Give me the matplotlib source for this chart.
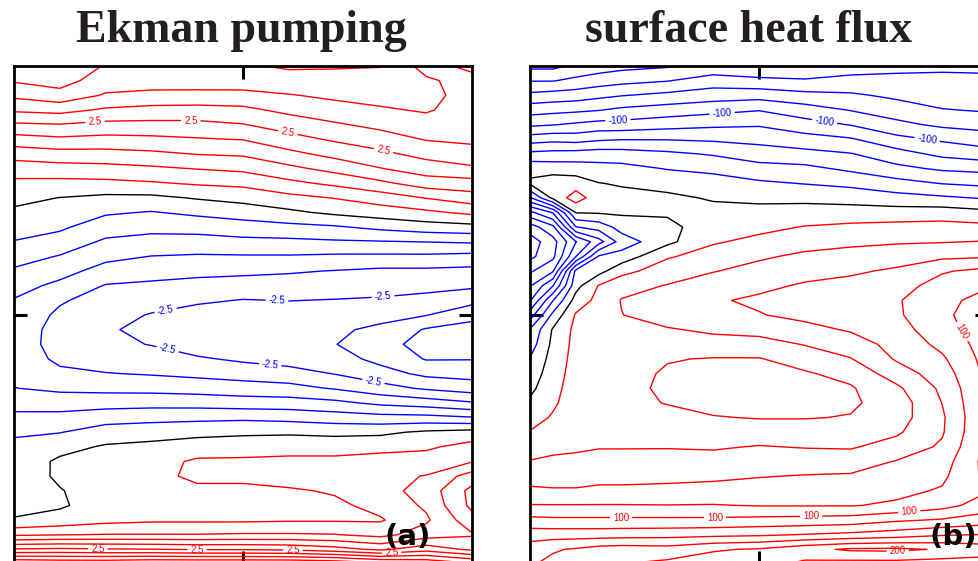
import numpy as np
import matplotlib
matplotlib.use("Agg")
import matplotlib.pyplot as plt

plt.rcParams['font.family'] = ['Liberation Sans', 'DejaVu Sans']

# --- grid: rows run from the top edge (y=1) to the bottom edge (y=0) ---
ys = np.linspace(1.0, 0.0, 35)

# --- Ekman pumping, one list per column (top -> bottom) ---
ek_x = [0.0, 0.1, 0.2, 0.3, 0.4, 0.5, 0.6, 0.7, 0.8, 0.9, 1.0]
ek_c0 = [4.6, 4.05, 3.61, 3.08, 2.43, 1.8, 1.21, 0.74, 0.39, 0.14, -0.09, -0.29, -0.52, -0.79, -1.07, -1.31, -1.53, -1.63, -1.72, -1.75, -1.7, -1.6, -1.49, -1.18, -0.88, -0.56, -0.4, -0.3, -0.22, -0.15, -0.08, 0.02, 0.92, 2.55, 4.6]
ek_c1 = [4.5, 4.2, 3.82, 3.16, 2.48, 1.91, 1.31, 0.8, 0.36, -0.01, -0.22, -0.42, -0.7, -1.03, -1.32, -1.62, -1.94, -2.1, -2.18, -2.18, -2.1, -1.9, -1.6, -1.23, -0.85, -0.52, -0.15, 0.08, 0.06, -0.02, -0.06, 0.18, 0.98, 2.6, 4.5]
ek_c2 = [3.95, 3.75, 3.45, 2.93, 2.37, 1.85, 1.33, 0.84, 0.38, -0.11, -0.44, -0.76, -1.08, -1.37, -1.69, -2.03, -2.22, -2.33, -2.4, -2.38, -2.25, -1.98, -1.64, -1.2, -0.72, -0.26, 0.05, 0.12, 0.15, 0.18, 0.22, 0.35, 1.02, 2.55, 4.5]
ek_c3 = [3.95, 3.8, 3.33, 2.86, 2.36, 1.89, 1.4, 0.92, 0.45, -0.11, -0.53, -0.85, -1.18, -1.51, -1.81, -2.09, -2.31, -2.53, -2.72, -2.52, -2.28, -2.04, -1.66, -1.18, -0.66, -0.2, 0.12, 0.3, 0.36, 0.35, 0.38, 0.42, 1.02, 2.52, 4.6]
ek_c4 = [3.95, 3.8, 3.32, 2.84, 2.37, 1.96, 1.52, 1.02, 0.56, 0.04, -0.4, -0.81, -1.2, -1.55, -1.87, -2.16, -2.43, -2.68, -2.85, -2.75, -2.44, -2.12, -1.71, -1.2, -0.63, -0.13, 0.22, 0.58, 0.6, 0.4, 0.38, 0.42, 1.02, 2.45, 4.6]
ek_c5 = [3.95, 3.8, 3.33, 2.89, 2.48, 2.02, 1.57, 1.11, 0.62, 0.17, -0.28, -0.71, -1.13, -1.54, -1.9, -2.21, -2.52, -2.72, -2.88, -2.8, -2.58, -2.22, -1.77, -1.27, -0.6, -0.09, 0.28, 0.58, 0.62, 0.38, 0.3, 0.42, 1.05, 2.45, 4.6]
ek_c6 = [4.05, 3.85, 3.47, 3.12, 2.73, 2.32, 1.87, 1.38, 0.88, 0.36, -0.1, -0.64, -1.11, -1.54, -1.95, -2.23, -2.49, -2.72, -2.9, -2.93, -2.72, -2.29, -1.85, -1.28, -0.66, -0.07, 0.3, 0.62, 0.72, 0.44, 0.36, 0.45, 1.05, 2.4, 4.6]
ek_c7 = [4.05, 3.8, 3.6, 3.3, 2.94, 2.57, 2.15, 1.66, 1.11, 0.52, 0.1, -0.56, -1.06, -1.58, -2.02, -2.26, -2.52, -2.75, -2.92, -2.98, -2.78, -2.52, -2.04, -1.38, -0.76, -0.12, 0.3, 0.62, 0.75, 0.55, 0.4, 0.45, 1.02, 2.2, 4.5]
ek_c8 = [4.02, 3.8, 3.68, 3.44, 3.13, 2.78, 2.39, 1.98, 1.39, 0.74, 0.25, -0.38, -1.03, -1.59, -2.1, -2.3, -2.56, -2.85, -3.1, -3.35, -3.15, -2.8, -2.32, -1.61, -0.83, -0.1, 0.35, 0.7, 0.88, 0.8, 0.65, 0.45, 0.85, 1.9, 4.2]
ek_c9 = [3.3, 3.58, 3.65, 3.55, 3.3, 3.03, 2.66, 2.25, 1.75, 1.02, 0.4, -0.23, -0.99, -1.59, -2.1, -2.35, -2.65, -2.98, -3.55, -3.65, -3.53, -3.12, -2.57, -1.75, -0.85, 0.08, 0.42, 0.73, 1.02, 1.2, 1.08, 0.92, 1.25, 2.3, 4.0]
ek_c10 = [3.65, 3.3, 3.3, 3.28, 3.22, 3.1, 2.81, 2.42, 1.8, 1.28, 0.61, -0.16, -0.94, -1.65, -2.14, -2.42, -2.83, -3.38, -3.65, -3.75, -3.52, -3.18, -2.75, -1.95, -0.97, 0.18, 0.68, 0.97, 1.73, 2.15, 2.12, 1.81, 1.45, 1.9, 3.6]

# --- surface heat flux, one list per column (top -> bottom) ---
hf_x = [0.0, 0.05, 0.1, 0.15, 0.2, 0.3, 0.4, 0.5, 0.6, 0.7, 0.8, 0.9, 1.0]
hf_c0 = [-205, -181, -155, -128.5, -104, -69.5, -35, -5.8, 3, -42, -105, -150, -170, -165, -143, -122, -102, -70, -38, -30, -19, -12, -5, 3.4, 12, 21, 30, 41, 51, 64, 81, 105.6, 131, 150, 158]
hf_c1 = [-205, -181, -152, -126, -101, -66, -33, -9, 12, 5, -78, -125, -148, -145, -122, -81, -41, -15, 2, 5, 8, 11, 14, 17, 22, 30, 36, 43, 52, 62, 81, 104, 131, 158, 165]
hf_c2 = [-196, -175, -150, -124, -97, -68, -32, -10, 10, 30, 1, -41, -101, -81, -15, -7, 8, 22, 25, 26, 27, 28, 29, 30, 32, 35, 38, 43, 52, 62, 81, 104, 131, 162, 165]
hf_c3 = [-190, -170, -145, -121, -93, -63, -30, -13, 0.5, 8, 2, -32, -68, -18, -7, 21, 26, 28, 29, 29, 29, 30, 31, 32, 34, 36, 39, 46, 54, 64, 81, 104, 131, 168, 172]
hf_c4 = [-186, -166, -141, -116, -93, -61, -31, -14, -2, 6, 3, -12, -31, -12, 14, 33, 41, 39.5, 33, 30, 28, 26, 25, 26, 29, 34, 39, 46, 54, 64, 81, 104, 132, 170, 180]
hf_c5 = [-182, -161, -135, -111, -88, -61, -36, -21, -7, 4, 3, -6, -5, 18, 30, 41, 53, 51, 38, 28, 21, 18, 17, 19, 27, 34, 39, 47, 55, 65, 80.5, 104, 133, 168, 185]
hf_c6 = [-175, -150, -130, -106, -84, -63, -42, -24, -13, -2, 6, 12, 18, 28, 39, 51, 58, 55, 44, 31, 19, 14, 12, 14, 21, 32, 38, 47, 56, 67, 81, 104, 135, 178, 190]
hf_c7 = [-178, -155, -128, -101, -82, -66, -50, -33, -17, -5, 7, 15, 25, 37, 47, 56, 63, 59, 47, 32, 19, 12, 10, 12, 19, 30, 41, 50, 59, 69, 79, 106, 137, 182, 188]
hf_c8 = [-176, -158, -134, -111, -92, -72, -54, -35, -21, -5, 8, 21, 32, 44, 54, 62, 68, 65, 54, 41, 28, 18, 14, 15, 19, 30, 39, 50, 61, 70, 79, 107, 141, 194, 175]
hf_c9 = [-168, -155, -137, -121, -101, -78, -59, -44, -25, -8, 9, 24, 36, 47, 57, 66, 73, 72, 62, 50, 39, 26, 18, 17, 21, 31, 38, 51, 62, 71, 79, 109, 145, 203, 172]
hf_c10 = [-165, -155, -144, -130, -115, -94, -72, -55, -33, -13, 9, 26, 38, 51, 63, 72, 78, 77, 72, 67, 62, 50, 36, 29, 31, 37, 48, 61, 68, 75, 83, 117, 150, 204, 172]
hf_c11 = [-163, -156, -150, -139, -124, -103, -85, -63, -41, -17, 10, 27, 39, 56, 78, 88, 94, 96, 92, 85, 77, 70, 64, 60.5, 57, 58, 63, 71, 76, 82, 93, 122, 158, 198, 170]
hf_c12 = [-163, -157, -153, -142, -128, -110, -92, -66, -45, -22, 5, 25, 41, 58, 86, 98, 108, 112, 112, 110, 108, 106, 104, 103, 103, 104, 106, 108, 106, 99, 110, 130, 161, 190, 170]

ek_levels = np.arange(-4.0, 4.01, 0.5)
ek_labeled = [-2.5, 2.5]
hf_levels = np.arange(-220, 221, 20)
hf_labeled = [-100, 100, 200]

# label spots (axes fractions)
ek_lab_pos = [(0.177, 0.886), (0.386, 0.892), (0.598, 0.865), (0.806, 0.827),
              (0.183, 0.032), (0.400, 0.028), (0.609, 0.026), (0.825, 0.014),
              (0.330, 0.514), (0.574, 0.526), (0.806, 0.536),
              (0.334, 0.426), (0.559, 0.396), (0.784, 0.363)]
hf_lab_pos = [(0.192, 0.892), (0.419, 0.908), (0.644, 0.892), (0.869, 0.863),
              (0.199, 0.094), (0.404, 0.094), (0.614, 0.096), (0.828, 0.106),
              (0.939, 0.464), (0.803, 0.022)]


def level_colors(levels):
    out = []
    for v in levels:
        if abs(v) < 1e-9:
            out.append('black')
        elif v > 0:
            out.append('#ff0000')
        else:
            out.append('#0000ff')
    return out


def panel(ax, xs, cols, levels, labeled, fmt, lab_pos):
    z = np.column_stack(cols)
    plain = [v for v in levels if not any(abs(v - w) < 1e-9 for w in labeled)]
    ax.contour(xs, ys, z, levels=plain, colors=level_colors(plain),
               linewidths=1.0, linestyles='solid')
    cs = ax.contour(xs, ys, z, levels=labeled, colors=level_colors(labeled),
                    linewidths=1.0, linestyles='solid')
    ax.clabel(cs, fmt=fmt, fontsize=7, inline=True, inline_spacing=3,
              manual=lab_pos)
    ax.set_xlim(0, 1)
    ax.set_ylim(0, 1)
    ax.set_xticks([0.5])
    ax.set_yticks([0.5])
    ax.tick_params(direction='in', length=9.5, width=2.2, top=True, right=True,
                   labelbottom=False, labelleft=False, color='black')
    for s in ax.spines.values():
        s.set_linewidth(2.0)
    return cs


W, H = 979, 561
fig = plt.figure(figsize=(W / 100, H / 100), dpi=100)

ax1 = fig.add_axes([14 / W, (H - 564) / H, 458 / W, 498 / H])
ax2 = fig.add_axes([530 / W, (H - 564) / H, 458 / W, 498 / H])

panel(ax1, ek_x, [ek_c0, ek_c1, ek_c2, ek_c3, ek_c4, ek_c5, ek_c6,
                  ek_c7, ek_c8, ek_c9, ek_c10],
      ek_levels, ek_labeled, '%.1f', ek_lab_pos)
panel(ax2, hf_x, [hf_c0, hf_c1, hf_c2, hf_c3, hf_c4, hf_c5, hf_c6,
                  hf_c7, hf_c8, hf_c9, hf_c10, hf_c11, hf_c12],
      hf_levels, hf_labeled, '%d', hf_lab_pos)

fig.text(241 / W, 1 - 42 / H, 'Ekman pumping', ha='center', va='baseline',
         fontsize=33, fontweight='bold', family='Liberation Serif',
         color='#231f20')
fig.text(749 / W, 1 - 42 / H, 'surface heat flux', ha='center',
         va='baseline', fontsize=33, fontweight='bold',
         family='Liberation Serif', color='#231f20')

ax1.text((408 - 14) / 458, (564 - 537) / 498, '(a)', ha='center',
         va='center', fontsize=21, fontweight='bold', family='DejaVu Sans',
         transform=ax1.transAxes)
ax2.text((953 - 530) / 458, (564 - 537) / 498, '(b)', ha='center',
         va='center', fontsize=21, fontweight='bold', family='DejaVu Sans',
         transform=ax2.transAxes)

fig.savefig('out.png', dpi=100)
